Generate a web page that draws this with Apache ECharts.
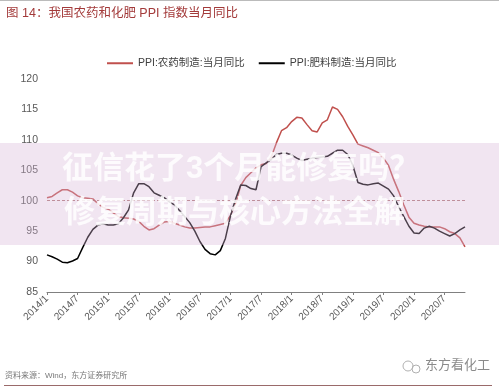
<!DOCTYPE html>
<html><head><meta charset="utf-8">
<script src="https://cdn.jsdelivr.net/npm/echarts@6/dist/echarts.min.js"></script>
<style>html,body{margin:0;padding:0;background:#fff;}#c{width:499px;height:388px;}</style>
</head><body><div id="c"></div>
<script>
// months 2014/1 .. 2020/11
const categories = [];
for (let y = 2014; y <= 2020; y++) for (let m = 1; m <= 12; m++) { if (y === 2020 && m > 11) break; categories.push(y + '/' + m); }

const pesticidePPI = [100.5,100.7,101.3,101.8,101.8,101.4,100.8,100.5,100.4,100.3,99.5,98.9,
  98.6,98.0,97.4,97.2,97.1,97.0,96.6,95.8,95.2,95.4,96.0,96.5,
  96.6,96.3,96.0,95.7,95.5,95.5,95.6,95.7,95.7,95.9,96.1,96.3,
  97.6,99.5,102.5,103.8,104.6,105.4,105.9,106.1,107.2,109.5,111.5,112.0,
  113.0,113.7,113.6,112.5,111.5,111.3,112.8,113.3,115.4,115.0,113.8,112.2,
  110.8,109.3,109.0,108.7,108.3,107.9,107.0,105.8,103.5,101.5,99.3,97.3,
  96.3,96.0,95.8,95.7,95.7,95.7,95.4,94.9,94.6,93.9,92.4];

const fertilizerPPI = [91.1,90.8,90.4,89.9,89.8,90.1,90.5,92.3,94.0,95.3,96.0,96.2,
  96.0,96.0,96.2,97.2,98.5,101.3,102.8,102.8,102.3,101.3,100.9,100.5,
  99.8,99.3,98.4,97.4,96.4,95.0,93.3,92.0,91.3,91.1,91.8,93.8,
  97.5,100.3,102.6,102.5,102.0,101.8,105.6,106.2,106.8,107.6,107.8,107.8,
  107.5,107.0,106.6,106.8,107.0,107.1,107.2,107.3,107.8,108.3,108.3,107.6,
  105.8,103.0,102.7,102.6,102.8,102.9,102.4,101.9,100.8,99.0,97.4,95.8,
  94.7,94.6,95.5,95.8,95.5,95.0,94.6,94.2,94.6,95.2,95.7];

const seriesNames = ['PPI:农药制造:当月同比', 'PPI:肥料制造:当月同比'];
const titleText = '图 14：我国农药和化肥 PPI 指数当月同比';
const sourceText = '资料来源：Wind，东方证券研究所';
const brandText = '东方看化工';
const overlayLines = ['征信花了3个月能修复吗？', '修复周期与核心方法全解'];

const chart = echarts.init(document.getElementById('c'), null, {renderer: 'canvas'});
const font = '"Liberation Sans", "Noto Sans CJK SC", sans-serif';
chart.setOption({
  animation: false,
  textStyle: {fontFamily: font},
  grid: {left: 47, right: 34, top: 79, bottom: 96},
  legend: {
    top: 53, left: 102, itemGap: 14, itemWidth: 26, itemHeight: 2, icon: 'rect',
    textStyle: {fontSize: 10.5, color: '#404040', fontFamily: font},
    data: seriesNames
  },
  xAxis: {
    type: 'category', data: categories, boundaryGap: false,
    axisLine: {lineStyle: {color: '#808080', width: 1}},
    axisTick: {interval: 5, length: 3, lineStyle: {color: '#808080'}},
    axisLabel: {interval: 5, rotate: 45, fontSize: 10, color: '#595959', margin: 5},
    splitLine: {show: false}
  },
  yAxis: {
    type: 'value', min: 85, max: 120, interval: 5,
    axisLine: {show: false}, axisTick: {show: false},
    axisLabel: {fontSize: 10.5, color: '#595959', margin: 9},
    splitLine: {show: false}
  },
  series: [
    {name: seriesNames[0], type: 'line', data: pesticidePPI, showSymbol: false, symbol: 'none',
     lineStyle: {color: '#c0504d', width: 1.5}, itemStyle: {color: '#c0504d'},
     markLine: {silent: true, symbol: 'none', label: {show: false},
       lineStyle: {color: '#a05a5a', type: [3, 2], width: 0.8}, data: [{yAxis: 100}]}},
    {name: seriesNames[1], type: 'line', data: fertilizerPPI, showSymbol: false, symbol: 'none',
     lineStyle: {color: '#000000', width: 1.5}, itemStyle: {color: '#000000'}}
  ],
  graphic: [
    {type: 'line', shape: {x1: 0, y1: 0.5, x2: 499, y2: 0.5}, style: {stroke: '#bbbbbb', lineWidth: 1}},
    {type: 'text', left: 6, top: 7, style: {text: titleText, fontSize: 12.5, fill: '#a33a3a', fontFamily: font}},
    {type: 'text', left: 5, top: 372, style: {text: sourceText, fontSize: 8, fill: '#777777', fontFamily: font}},
    {type: 'line', shape: {x1: 4, y1: 385.5, x2: 492, y2: 385.5}, style: {stroke: '#9a6a6a', lineWidth: 1}},
    {type: 'circle', shape: {cx: 408, cy: 366, r: 5}, style: {fill: 'none', stroke: '#b0b0b0', lineWidth: 1}},
    {type: 'circle', shape: {cx: 416, cy: 369, r: 4}, style: {fill: 'none', stroke: '#b0b0b0', lineWidth: 1}},
    {type: 'text', left: 425, top: 359, style: {text: brandText, fontSize: 13, fill: '#8a8a8a', fontFamily: font}},
    {type: 'rect', z: 100, shape: {x: 0, y: 143, width: 499, height: 102}, style: {fill: 'rgba(215,180,215,0.35)'}},
    {type: 'text', z: 101, left: 62, top: 154, style: {text: overlayLines[0], fontSize: 31, fontWeight: 'bold', fill: 'rgba(255,255,255,0.85)', fontFamily: font}},
    {type: 'text', z: 101, left: 64, top: 198, style: {text: overlayLines[1], fontSize: 31, fontWeight: 'bold', fill: 'rgba(255,255,255,0.85)', fontFamily: font}}
  ]
});
</script></body></html>
